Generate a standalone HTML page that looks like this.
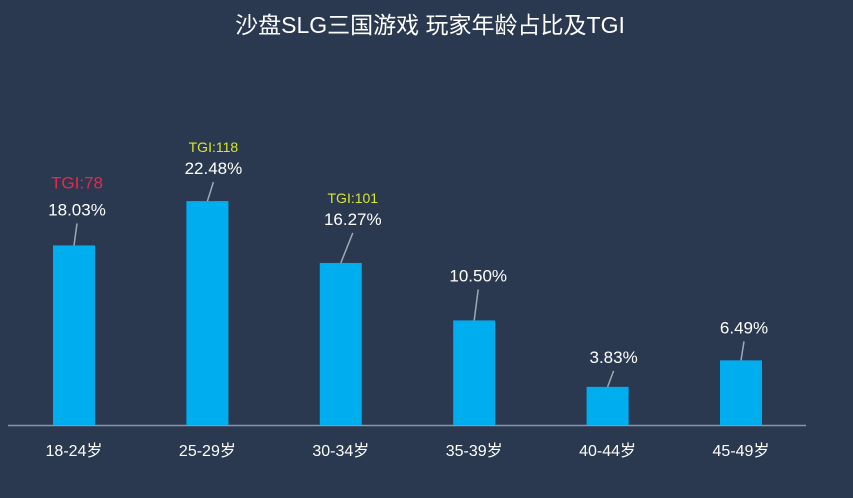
<!DOCTYPE html>
<html><head><meta charset="utf-8">
<style>
html,body{margin:0;padding:0;background:#2a3850;}
svg{display:block;font-family:"Liberation Sans","Noto Sans CJK SC",sans-serif;}
</style></head>
<body>
<svg id="chart" width="853" height="498" viewBox="0 0 853 498">
<rect x="0" y="0" width="853" height="498" fill="#2a3850"/>
<text x="430" y="33" text-anchor="middle" fill="#ffffff" font-size="23">沙盘SLG三国游戏 玩家年龄占比及TGI</text>
<line x1="8" y1="425.5" x2="806" y2="425.5" stroke="#8a95a8" stroke-width="1.5"/>
<g id="bars"></g>
</svg>
<script>
const categories = ["18-24岁","25-29岁","30-34岁","35-39岁","40-44岁","45-49岁"];
const values = [18.03, 22.48, 16.27, 10.50, 3.83, 6.49];
const tgiLabels = ["TGI:78","TGI:118","TGI:101",null,null,null];
const tgiColors = ["#e8294c","#d9e62a","#d9e62a",null,null,null];
// leader line layout (style)
const leaderDx = [3,6,12,4,6,3];
const leaderLen = [22,19,30,31,16,19];

const baseY = 425, pxPer = 9.96, x0 = 74, step = 133.4, barW = 42;
const xScale = i => x0 + i*step;
const yScale = v => baseY - v*pxPer;
const ns = "http://www.w3.org/2000/svg";
const g = document.getElementById("bars");
function mk(tag, attrs){const e=document.createElementNS(ns,tag);for(const k in attrs)e.setAttribute(k,attrs[k]);g.appendChild(e);return e;}
categories.forEach((c,i)=>{
  const cx = xScale(i), top = yScale(values[i]);
  const r = mk("rect",{x:cx-barW/2,y:top,width:barW,height:baseY-top,fill:"#00aeef"});
  
  
  const ex = cx+leaderDx[i], ey = top-leaderLen[i];
  const l = mk("line",{x1:cx,y1:top,x2:ex,y2:ey,stroke:"#a0a8b4","stroke-width":1.5});
  
  
  const t = mk("text",{x:ex,y:ey-8,"text-anchor":"middle",fill:"#ffffff","font-size":17});
  t.textContent = values[i].toFixed(2)+"%";
  
  
  if(tgiLabels[i]){
    const tg = mk("text",{x:ex,y:ey-(i==0?35:30),"text-anchor":"middle",fill:tgiColors[i],"font-size":i==0?17:14});
    tg.textContent = tgiLabels[i];
    
    
  }
  const xl = mk("text",{x:cx,y:456,"text-anchor":"middle",fill:"#ffffff","font-size":16});
  xl.textContent = c;
  
  
});
</script>
</body></html>
